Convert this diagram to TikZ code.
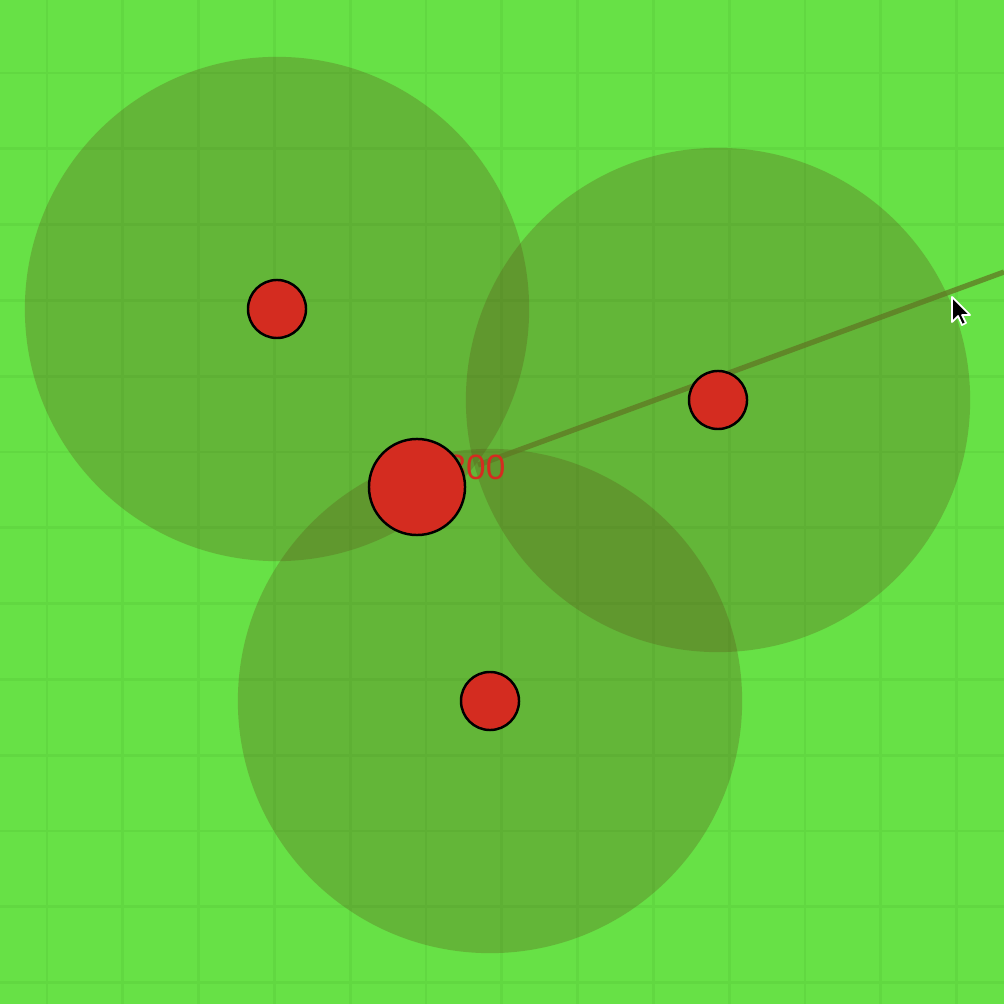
\documentclass[tikz,border=0pt]{standalone}
\usepackage{fontspec}
\setmainfont{Liberation Sans}
\definecolor{grass}{RGB}{103,225,70}
\definecolor{gridgreen}{RGB}{97,216,65}
\definecolor{shade}{RGB}{90,85,25}
\definecolor{aimcolor}{RGB}{95,120,35}
\definecolor{blob}{RGB}{212,44,32}

\begin{document}
\begin{tikzpicture}[x=0.01cm,y=-0.01cm,
    reach/.style={circle, fill=shade, fill opacity=0.3, minimum size=5.04cm, inner sep=0pt},
    unit/.style={circle, fill=blob, draw=black, line width=0.7pt, inner sep=0pt},
    aim/.style={aimcolor, opacity=0.75, line width=1.5pt}]

    % Background and fixed page size
    \fill[grass] (0,0) rectangle (1004,1004);
    \useasboundingbox (0,0) rectangle (1004,1004);

    % Grid lines every 75.8 px
    \foreach \k in {0,...,12} {
        \draw[gridgreen, line width=0.8pt] ({47+75.8*\k},0) -- ({47+75.8*\k},1004);
        \draw[gridgreen, line width=0.8pt] (0,{73+75.8*\k}) -- (1004,{73+75.8*\k});
    }

    % Translucent reach around the three small units
    \node[reach] (reachA) at (277,309) {};
    \node[reach] (reachB) at (718,400) {};
    \node[reach] (reachC) at (490,701) {};

    % Aim line towards the pointer
    \coordinate (aimstart) at (478,465);
    \coordinate (aimend) at (1004,272);
    \draw[aim] (aimstart) -- (aimend);

    % Cost label, partly hidden by the big unit
    \node[text=blob, font=\fontsize{10}{11}\selectfont, inner sep=0pt] (cost) at (476,467) {300};

    % Units
    \node[unit, minimum size=0.58cm] (unitA) at (277,309) {};
    \node[unit, minimum size=0.58cm] (unitB) at (718,400) {};
    \node[unit, minimum size=0.58cm] (unitC) at (490,701) {};
    \node[unit, minimum size=0.96cm] (hero) at (417,487) {};

    % Mouse pointer
    \draw[fill=black, draw=white, line width=0.5pt, line join=round]
        (952,297) -- ++(0,25) -- ++(6,-6) -- ++(4,9) -- ++(4,-2) -- ++(-4,-8) -- ++(8,0) -- cycle;

\end{tikzpicture}
\end{document}
